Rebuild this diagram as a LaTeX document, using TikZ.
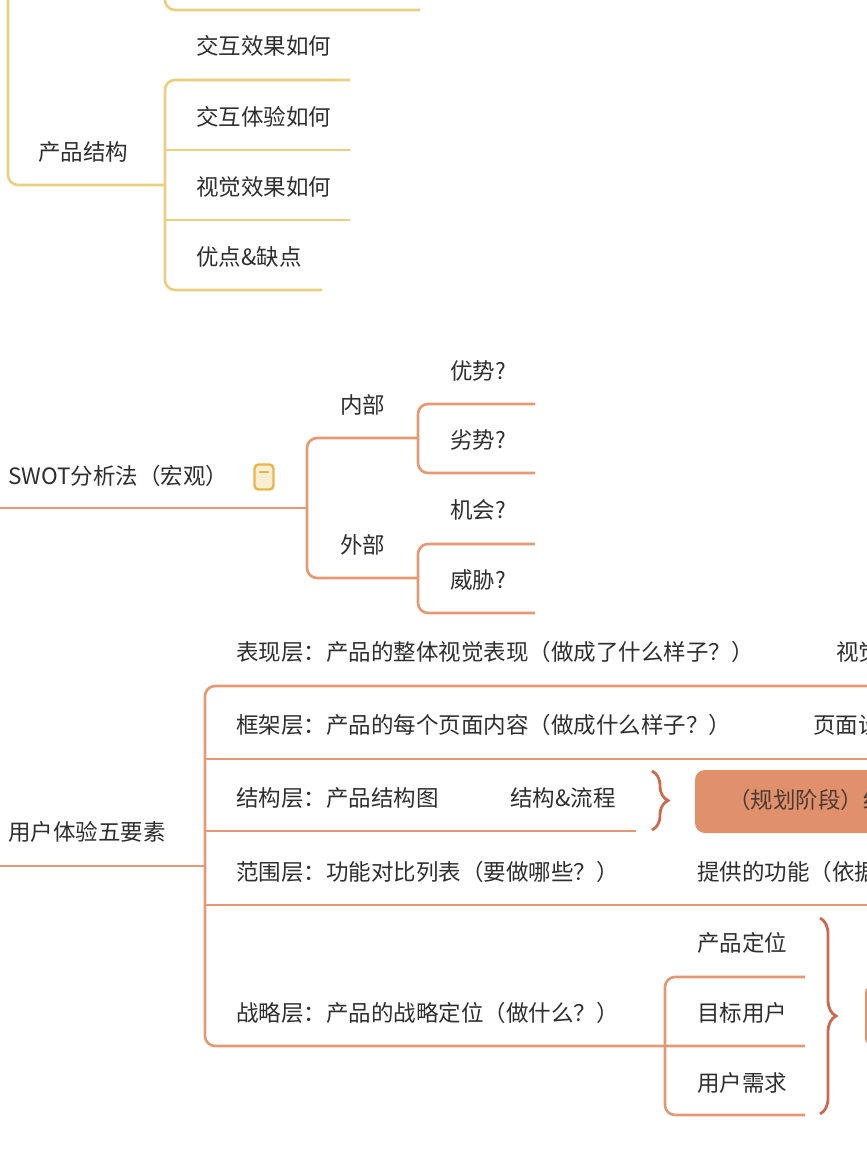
\documentclass[tikz,border=0pt]{standalone}
\usepackage{fontspec}
\setmainfont{Noto Sans CJK SC}
\usetikzlibrary{decorations.pathreplacing}
\definecolor{ylw}{HTML}{EACF80}
\definecolor{icn}{HTML}{E8B64A}
\definecolor{org}{HTML}{E29A74}
\definecolor{brc}{HTML}{C96B4E}
\definecolor{boxc}{HTML}{E0916B}
\definecolor{txt}{HTML}{2E2E2E}
\tikzset{
 lbl/.style={anchor=west,inner sep=0pt,text=txt,font=\fontsize{22.5}{24}\selectfont},
 yl/.style={draw=ylw,line width=2.6pt,rounded corners=10pt},
 ol/.style={draw=org,line width=2.6pt,rounded corners=10pt},
 br/.style={draw=brc,line width=2.8pt,decorate,decoration={brace,amplitude=16pt}}
}
\begin{document}
\begin{tikzpicture}[x=1pt,y=-1pt]
\useasboundingbox (0,0) rectangle (867,1157);
\fill[white] (0,0) rectangle (867,1157);
\clip (0,0) rectangle (867,1157);
% top (yellow)
\draw[yl] (165,-20) |- (420,10);
\draw[yl] (8,-20) |- (165,185);
\draw[yl] (350,80) -| (165,290) -- (322,290);
\draw[yl] (165,150) -- (350,150);
\draw[yl] (165,220) -- (350,220);
\node[lbl] (a0) at (196,46) {交互效果如何};
\node[lbl] (a) at (38,152) {产品结构};
\node[lbl] (a1) at (196,117) {交互体验如何};
\node[lbl] (a2) at (196,187) {视觉效果如何};
\node[lbl] (a3) at (196,257) {优点\&缺点};
% SWOT
\node[lbl] (s) at (8,476) {SWOT分析法（宏观）};
\node[draw=icn,fill=icn!25,line width=2.4pt,rounded corners=4pt,minimum width=19pt,minimum height=25pt,inner sep=0pt] (icon) at (264,477) {};
\draw[icn,line width=2.2pt] ([xshift=-5pt,yshift=5pt]icon.center) -- ([xshift=5pt,yshift=5pt]icon.center);
\draw[ol] (0,508) -- (307,508);
\draw[ol] (418,438) -| (307,578) -- (418,578);
\draw[ol] (535,404) -| (418,473) -- (535,473);
\draw[ol] (535,544) -| (418,613) -- (535,613);
\node[lbl] (in) at (340,405) {内部};
\node[lbl] (out) at (340,545) {外部};
\node[lbl] at (450,371) {优势?};
\node[lbl] at (450,440) {劣势?};
\node[lbl] at (450,510) {机会?};
\node[lbl] at (450,580) {威胁?};
% five elements
\node[lbl] (u) at (8,832) {用户体验五要素};
\draw[ol] (0,866) -- (205,866);
\draw[ol] (880,686) -| (205,1046) -- (805,1046);
\draw[ol] (205,759) -- (880,759);
\draw[ol] (205,831) -- (636,831);
\draw[ol] (205,905) -- (880,905);
\draw[ol] (805,977) -| (665,1115) -- (805,1115);
\node[lbl] at (236,652) {表现层：产品的整体视觉表现（做成了什么样子？）};
\node[lbl] at (836,652) {视觉设计};
\node[lbl] at (236,725) {框架层：产品的每个页面内容（做成什么样子？）};
\node[lbl] at (813,725) {页面设计};
\node[lbl] at (236,798) {结构层：产品结构图};
\node[lbl] at (510,798) {结构\&流程};
\node[lbl] at (236,872) {范围层：功能对比列表（要做哪些？）};
\node[lbl] at (697,872) {提供的功能（依据};
\node[lbl] at (236,1013) {战略层：产品的战略定位（做什么？）};
\node[lbl] at (697,943) {产品定位};
\node[lbl] at (697,1013) {目标用户};
\node[lbl] at (697,1083) {用户需求};
\draw[br] (652,771) -- (652,830);
\fill[boxc,rounded corners=10pt] (695,770) rectangle (900,833);
\node[lbl,text=txt!80!brc] at (728,800) {（规划阶段）结构};
\draw[br] (820,918) -- (820,1114);
\fill[boxc,rounded corners=8pt] (865,985) rectangle (900,1046);
\end{tikzpicture}
\end{document}
